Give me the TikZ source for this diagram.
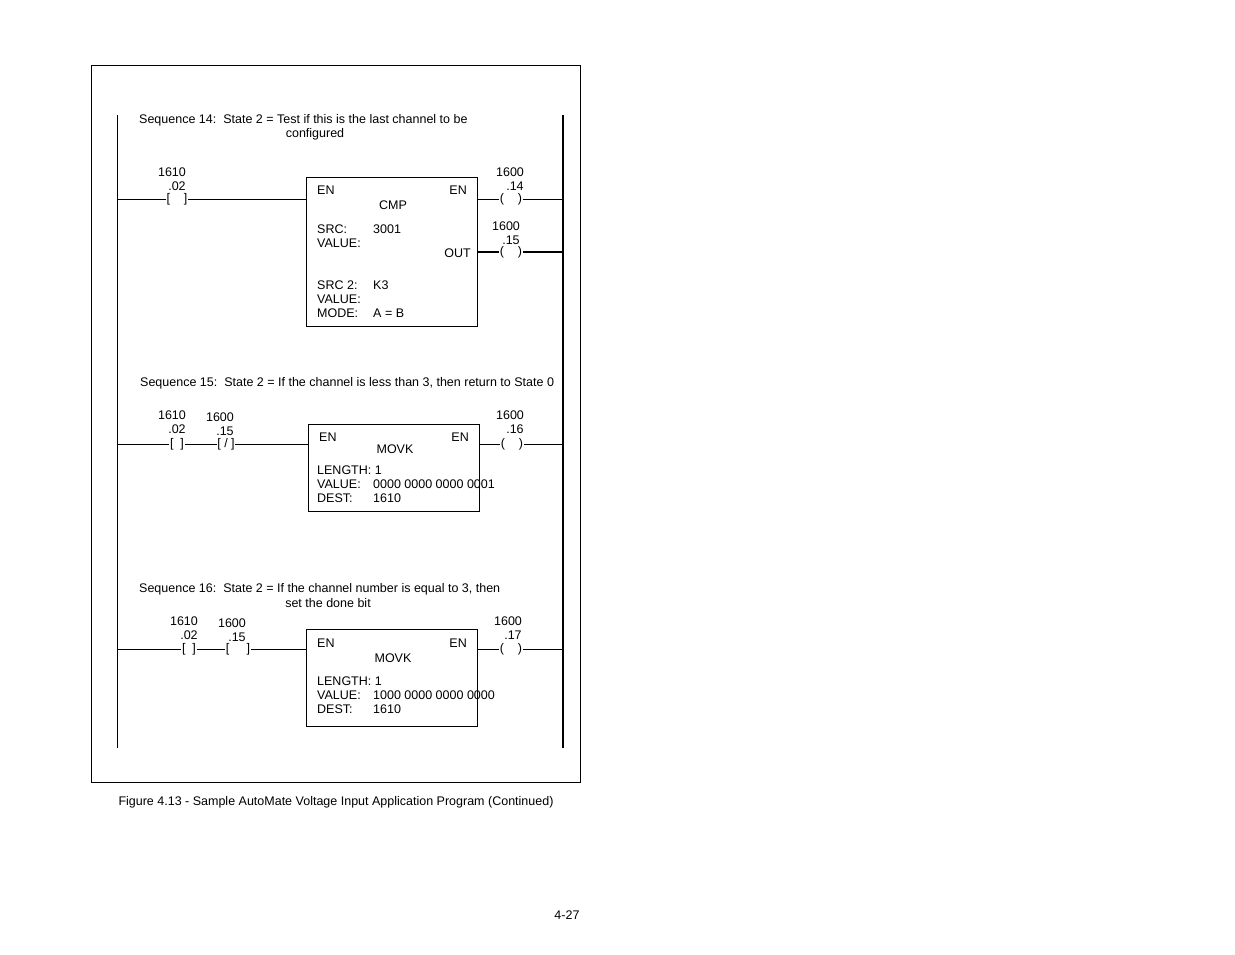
\documentclass[tikz,border=0pt]{standalone}
\usepackage{fontspec}
\setmainfont{Liberation Sans}
\begin{document}
\begin{tikzpicture}[x=1pt,y=-1pt,
  txt/.style={inner sep=0pt,yshift=-2pt,font=\fontsize{12.5}{14}\selectfont},
  lt/.style={txt,anchor=west},
  ct/.style={txt,inner xsep=0.5pt,yshift=2pt},
  wire/.style={line width=0.8pt},
  boxs/.style={draw,line width=0.8pt}]
\useasboundingbox (0,0) rectangle (1235,954);
\draw[line width=0.8pt] (91,65) rectangle (580,782);
\coordinate (lt) at (117,115); \coordinate (lb) at (117,748);
\coordinate (rt) at (563,115); \coordinate (rb) at (563,748);
\draw[line width=0.8pt] (lt) -- (lb);
\draw[line width=1.6pt] (rt) -- (rb);
% Seq 14
\node[lt] (s14) at (139,118) {Sequence 14:\ \ State 2 = Test if this is the last channel to be};
\node[txt] (s14b) at (315,132) {configured};
\node[txt] at (172,170) {1610}; \node[txt] at (177,184) {.02};
\node[ct] (c1) at (177,199) {[\ \ \ \ ]};
\draw[wire] (lt|-c1) -- (c1.west); 
\node[boxs,minimum width=171pt,minimum height=149pt,anchor=north west] (b1) at (306,177) {};
\draw[wire] (c1.east) -- (b1.west|-c1);
\node[txt] at (510,170) {1600}; \node[txt] at (515,184) {.14};
\node[ct] (o1) at (511,199) {(\ \ \ \ )};
\draw[wire] (b1.east|-o1) -- (o1.west); \draw[wire] (o1.east) -- (rt|-o1);
\node[txt] at (506,224) {1600}; \node[txt] at (511,238) {.15};
\node[ct] (o2) at (511,252) {(\ \ \ \ )};
\draw[line width=1.3pt] (b1.east|-o2) -- (o2.west); \draw[line width=1.3pt] (o2.east) -- (rt|-o2);
\node[lt] at (317,188) {EN}; \node[txt,anchor=east] at (467,188) {EN};
\node[txt] at (393,203) {CMP};
\node[lt] at (317,227) {SRC:}; \node[lt] at (373,227) {3001};
\node[lt] at (317,241) {VALUE:};
\node[txt,anchor=east] at (471,251) {OUT};
\node[lt] at (317,283) {SRC 2:}; \node[lt] at (373,283) {K3};
\node[lt] at (317,297) {VALUE:};
\node[lt] at (317,311) {MODE:}; \node[lt] at (373,311) {A = B};
% Seq 15
\node[lt] at (140,381) {Sequence 15:\ \ State 2 = If the channel is less than 3, then return to State 0};
\node[txt] at (172,413) {1610}; \node[txt] at (177,427) {.02};
\node[txt] at (220,415) {1600}; \node[txt] at (225,429) {.15};
\node[ct] (c2) at (177,444) {[\ \ ]};
\node[ct] (c3) at (226,444) {[\ /\ ]};
\node[boxs,line width=1.4pt,minimum width=171pt,minimum height=87pt,anchor=north west] (b2) at (308,424) {};
\draw[wire] (lt|-c2) -- (c2.west); \draw[wire] (c2.east) -- (c3.west); \draw[wire] (c3.east) -- (b2.west|-c3);
\node[txt] at (510,413) {1600}; \node[txt] at (515,427) {.16};
\node[ct] (o3) at (512,444) {(\ \ \ \ )};
\draw[wire] (b2.east|-o3) -- (o3.west); \draw[wire] (o3.east) -- (rt|-o3);
\node[lt] at (319,435) {EN}; \node[txt,anchor=east] at (469,435) {EN};
\node[txt] at (395,447) {MOVK};
\node[lt] at (317,468) {LENGTH: 1};
\node[lt] at (317,482) {VALUE:}; \node[lt] at (373,482) {0000 0000 0000 0001};
\node[lt] at (317,496) {DEST:}; \node[lt] at (373,496) {1610};
% Seq 16
\node[lt] at (139,587) {Sequence 16:\ \ State 2 = If the channel number is equal to 3, then};
\node[txt] at (328,601) {set the done bit};
\node[txt] at (184,619) {1610}; \node[txt] at (189,633) {.02};
\node[txt] at (232,621) {1600}; \node[txt] at (237,635) {.15};
\node[ct] (c4) at (189,649) {[\ \ ]};
\node[ct] (c5) at (238,649) {[\ \ \ \ \ ]};
\node[boxs,minimum width=171pt,minimum height=97pt,anchor=north west] (b3) at (306,629) {};
\draw[wire] (lt|-c4) -- (c4.west); \draw[wire] (c4.east) -- (c5.west); \draw[wire] (c5.east) -- (b3.west|-c5);
\node[txt] at (508,619) {1600}; \node[txt] at (513,633) {.17};
\node[ct] (o4) at (511,649) {(\ \ \ \ )};
\draw[wire] (b3.east|-o4) -- (o4.west); \draw[wire] (o4.east) -- (rt|-o4);
\node[lt] at (317,641) {EN}; \node[txt,anchor=east] at (467,641) {EN};
\node[txt] at (393,656) {MOVK};
\node[lt] at (317,679) {LENGTH: 1};
\node[lt] at (317,693) {VALUE:}; \node[lt] at (373,693) {1000 0000 0000 0000};
\node[lt] at (317,707) {DEST:}; \node[lt] at (373,707) {1610};
% caption
\node[txt] (cap) at (336,800) {Figure 4.13 - Sample AutoMate Voltage Input Application Program (Continued)};
\node[txt] (pg) at (567,913) {4-27};
\end{tikzpicture}
\end{document}
